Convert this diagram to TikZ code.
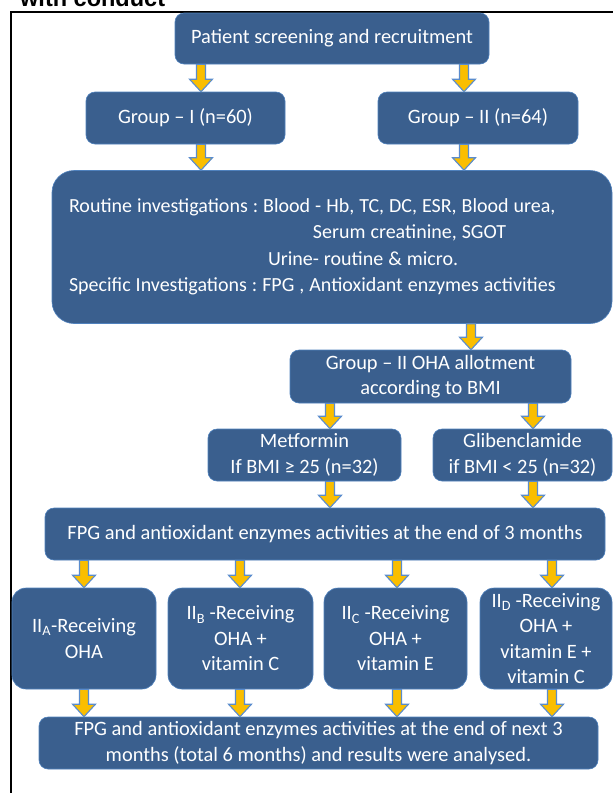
\documentclass[tikz,border=0pt]{standalone}
\usepackage{fontspec}
\setmainfont{Carlito}
\newfontfamily\headfont{Liberation Sans}
\usetikzlibrary{calc}
\definecolor{boxblue}{RGB}{58,95,142}
\definecolor{boxedge}{RGB}{79,129,189}
\definecolor{arrowgold}{RGB}{250,190,0}
\definecolor{arrowedge}{RGB}{90,140,205}
\newcommand{\tightwords}{\frenchspacing\spaceskip=0.25em\relax}
\tikzset{
  stepbox/.style={fill=boxblue, draw=boxedge, line width=0.6pt, rounded corners=9pt,
    text=white, align=center, inner sep=0pt, font=\fontsize{20.4}{25.5}\selectfont},
  arrowbody/.style={fill=arrowgold, draw=arrowedge, line width=1.1pt, line join=miter},
}
\newcommand{\blockarrow}[2]{%
  \draw[arrowbody] let \p1=#1, \p2=#2 in
    (\x1-4.5pt,\y1) -- (\x1-4.5pt,\y2+12.5pt) -- (\x1-11.5pt,\y2+12.5pt) -- (\x1,\y2)
    -- (\x1+11.5pt,\y2+12.5pt) -- (\x1+4.5pt,\y2+12.5pt) -- (\x1+4.5pt,\y1) -- cycle;}
\begin{document}
\begin{tikzpicture}[x=1pt,y=-1pt]
  \useasboundingbox (0,0) rectangle (613,793);
  \fill[white] (0,0) rectangle (613,793);
  \node[anchor=base west, inner sep=0pt, font=\headfont\bfseries\fontsize{23.5}{28}\selectfont] (title) at (20,6) {with conduct};
  \draw[line width=2.5pt] (613,12) -- (11,12) -- (11,793);
  %%
  \node[stepbox, minimum width=314pt, minimum height=51pt] (screen) at (332,38.5) {Patient screening and recruitment};
  \node[stepbox, minimum width=199pt, minimum height=52pt] (grpI) at (185.5,118) {Group – I (n=60)};
  \node[stepbox, minimum width=200pt, minimum height=52pt] (grpII) at (478,118) {Group – II (n=64)};
  \node[stepbox, rounded corners=22pt, align=left, text width=526pt, inner xsep=17pt,
    minimum height=153pt, font=\fontsize{20}{26.5}\selectfont] (invest) at (332,247) {%
    \tightwords Routine investigations : Blood - Hb, TC, DC, ESR, Blood urea,\\
    \hspace*{244pt}Serum creatinine, SGOT\\
    \hspace*{199pt}Urine- routine \& micro.\\
    Specific Investigations : FPG , Antioxidant enzymes activities};
  \node[stepbox, minimum width=281pt, minimum height=53pt] (oha) at (430.5,376.5) {Group – II OHA allotment\\according to BMI};
  \node[stepbox, minimum width=193pt, minimum height=52pt] (metf) at (304.5,455) {Metformin\\If BMI ≥ 25 (n=32)};
  \node[stepbox, minimum width=179pt, minimum height=52pt] (glib) at (522.5,455) {Glibenclamide\\if BMI < 25 (n=32)};
  \node[stepbox, minimum width=560pt, minimum height=52pt] (fpgA) at (325,534) {FPG and antioxidant enzymes activities at the end of 3 months};
  %%
  \node[stepbox, rounded corners=14pt, minimum width=144pt, minimum height=101pt] (subA) at (84,638.5) {II\textsubscript{A}-Receiving\\OHA};
  \node[stepbox, rounded corners=14pt, minimum width=145pt, minimum height=101pt] (subB) at (240.5,638.5) {II\textsubscript{B} -Receiving\\OHA +\\vitamin C};
  \node[stepbox, rounded corners=14pt, minimum width=143pt, minimum height=101pt] (subC) at (395.5,638.5) {II\textsubscript{C} -Receiving\\OHA +\\vitamin E};
  \node[stepbox, rounded corners=14pt, minimum width=132pt, minimum height=101pt] (subD) at (546,638.5) {II\textsubscript{D} -Receiving\\OHA +\\vitamin E +\\vitamin C};
  \node[stepbox, minimum width=559pt, minimum height=52pt] (fpgB) at (318.5,743) {FPG and antioxidant enzymes activities at the end of next 3\\months (total 6 months) and results were analysed.};
  %%
  \coordinate (cL) at (201,0);
  \coordinate (cR) at (464,0);
  \coordinate (cO) at (471,0);
  \coordinate (cM) at (330,0);
  \coordinate (cG) at (533,0);
  \coordinate (cA) at (84,0);
  \coordinate (cB) at (240,0);
  \coordinate (cC) at (397,0);
  \coordinate (cD) at (552,0);
  \blockarrow{(screen.south -| cL)}{(grpI.north -| cL)}
  \blockarrow{(screen.south -| cR)}{(grpII.north -| cR)}
  \blockarrow{(grpI.south -| cL)}{(invest.north -| cL)}
  \blockarrow{(grpII.south -| cR)}{(invest.north -| cR)}
  \blockarrow{(invest.south -| cO)}{(oha.north -| cO)}
  \blockarrow{(oha.south -| cM)}{(metf.north -| cM)}
  \blockarrow{(oha.south -| cG)}{(glib.north -| cG)}
  \blockarrow{(metf.south -| cM)}{(fpgA.north -| cM)}
  \blockarrow{(glib.south -| cG)}{(fpgA.north -| cG)}
  \blockarrow{(fpgA.south -| cA)}{(subA.north -| cA)}
  \blockarrow{(fpgA.south -| cB)}{(subB.north -| cB)}
  \blockarrow{(fpgA.south -| cC)}{(subC.north -| cC)}
  \blockarrow{(fpgA.south -| cD)}{(subD.north -| cD)}
  \blockarrow{(subA.south -| cA)}{(fpgB.north -| cA)}
  \blockarrow{(subB.south -| cB)}{(fpgB.north -| cB)}
  \blockarrow{(subC.south -| cC)}{(fpgB.north -| cC)}
  \blockarrow{(subD.south -| cD)}{(fpgB.north -| cD)}
\end{tikzpicture}
\end{document}
